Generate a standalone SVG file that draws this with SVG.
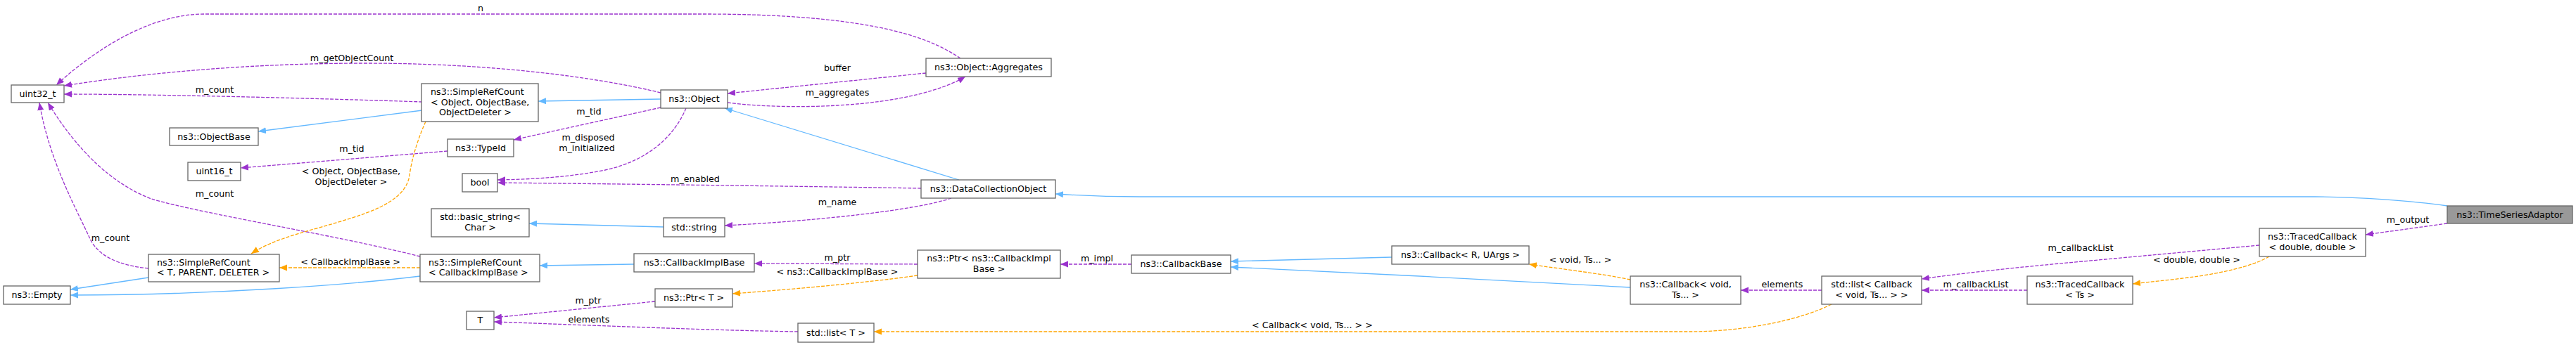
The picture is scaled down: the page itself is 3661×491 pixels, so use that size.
<svg xmlns="http://www.w3.org/2000/svg" width="3661" height="491" viewBox="0 0 3661 491">
<style>
text{font-family:"DejaVu Sans","Liberation Sans",sans-serif;font-size:12.7px;fill:#000}
.n rect{fill:#fff;stroke:#666;stroke-width:1.3}
.n text{text-anchor:middle}
.n text.l{text-anchor:start}
.e path{fill:none;stroke-width:1.3}
.inh{stroke:#63b8ff}
.use{stroke:#9a32cd;stroke-dasharray:5,2}
.tpl{stroke:#ffa500;stroke-dasharray:5,2}
.lbl text{text-anchor:middle}
</style>
<defs>
<marker id="ab" markerUnits="userSpaceOnUse" markerWidth="12" markerHeight="10" refX="11" refY="4.5" orient="auto"><path d="M0,0 L11,4.5 L0,9 z" fill="#63b8ff"/></marker>
<marker id="ap" markerUnits="userSpaceOnUse" markerWidth="12" markerHeight="10" refX="11" refY="4.5" orient="auto"><path d="M0,0 L11,4.5 L0,9 z" fill="#9a32cd"/></marker>
<marker id="ao" markerUnits="userSpaceOnUse" markerWidth="12" markerHeight="10" refX="11" refY="4.5" orient="auto"><path d="M0,0 L11,4.5 L0,9 z" fill="#ffa500"/></marker>
</defs>
<rect width="3661" height="491" fill="#fff"/>
<g id="edges" class="e">
<path class="inh" marker-end="url(#ab)" d="M3478,293 C3430,286 3350,280 3290,280 L1620,280 C1570,280 1530,278 1500,276"/>
<path class="inh" marker-end="url(#ab)" d="M1363,256 L1030,154"/>
<path class="inh" marker-end="url(#ab)" d="M939,141 L765,144"/>
<path class="inh" marker-end="url(#ab)" d="M600,157 L367,187"/>
<path class="inh" marker-end="url(#ab)" d="M943,323 L752,318"/>
<path class="inh" marker-end="url(#ab)" d="M901,376 L767,378"/>
<path class="inh" marker-end="url(#ab)" d="M597,393 C500,405 300,420 100,420"/>
<path class="inh" marker-end="url(#ab)" d="M211,395 L100,412"/>
<path class="inh" marker-end="url(#ab)" d="M1978,366 L1749,372"/>
<path class="inh" marker-end="url(#ab)" d="M2317,409 C2200,403 1900,386 1749,380"/>
<path class="use" marker-end="url(#ap)" d="M1365,83 C1330,60 1260,20 1000,20 L290,20 C210,20 130,75 80,121"/>
<path class="use" marker-end="url(#ap)" d="M939,132 C850,110 700,90 520,90 C330,90 180,108 91,122"/>
<path class="use" marker-end="url(#ap)" d="M600,145 C450,140 220,134 91,134"/>
<path class="use" marker-end="url(#ap)" d="M211,382 C170,378 140,365 128,340 C110,300 70,230 56,146"/>
<path class="use" marker-end="url(#ap)" d="M597,365 C480,335 290,305 215,283 C160,262 110,215 68,146"/>
<path class="use" marker-end="url(#ap)" d="M636,215 L342,239"/>
<path class="use" marker-end="url(#ap)" d="M939,153 L730,199"/>
<path class="use" marker-end="url(#ap)" d="M975,154 C960,190 925,228 860,242 C810,252 760,255 707,256"/>
<path class="use" marker-end="url(#ap)" d="M1309,268 C1200,266 900,262 707,260"/>
<path class="use" marker-end="url(#ap)" d="M1352,282 C1300,300 1150,315 1030,321"/>
<path class="use" marker-end="url(#ap)" d="M1304,376 L1072,375"/>
<path class="use" marker-end="url(#ap)" d="M1608,376 L1507,376"/>
<path class="use" marker-end="url(#ap)" d="M931,429 L702,452"/>
<path class="use" marker-end="url(#ap)" d="M1134,472 C1000,470 820,462 702,458"/>
<path class="use" marker-end="url(#ap)" d="M2589,413 L2474,413"/>
<path class="use" marker-end="url(#ap)" d="M2881,413 L2731,413"/>
<path class="use" marker-end="url(#ap)" d="M3211,349 L2960,372 C2850,382 2780,390 2731,397"/>
<path class="use" marker-end="url(#ap)" d="M3478,318 L3362,334"/>
<path class="use" marker-end="url(#ap)" d="M1034,146 C1080,152 1140,153 1190,150 C1280,145 1340,128 1372,109"/>
<path class="use" marker-end="url(#ap)" d="M1316,104 L1034,133"/>
<path class="tpl" marker-end="url(#ao)" d="M605,173 C595,195 585,225 582,250 C575,290 520,305 450,325 C410,336 380,346 357,361"/>
<path class="tpl" marker-end="url(#ao)" d="M597,381 L397,381"/>
<path class="tpl" marker-end="url(#ao)" d="M2603,433 C2560,455 2480,472 2400,472 L1242,472"/>
<path class="tpl" marker-end="url(#ao)" d="M2317,398 C2280,390 2220,383 2173,376"/>
<path class="tpl" marker-end="url(#ao)" d="M3225,365 C3200,380 3150,390 3110,395 C3080,399 3055,401 3031,404"/>
<path class="tpl" marker-end="url(#ao)" d="M1304,392 C1250,400 1150,410 1041,418"/>
</g>
<g id="edge-labels" class="lbl">
<text x="683" y="16">n</text>
<text x="500" y="87">m_getObjectCount</text>
<text x="305" y="132">m_count</text>
<text x="157" y="343">m_count</text>
<text x="305" y="280">m_count</text>
<text x="500" y="216">m_tid</text>
<text x="837" y="163">m_tid</text>
<text x="836" y="200">m_disposed</text>
<text x="834" y="215">m_initialized</text>
<text x="988" y="259">m_enabled</text>
<text x="1190" y="292">m_name</text>
<text x="1190" y="371">m_ptr</text>
<text x="1559" y="372">m_impl</text>
<text x="836" y="432">m_ptr</text>
<text x="837" y="459">elements</text>
<text x="1190" y="391">&lt; ns3::CallbackImplBase &gt;</text>
<text x="2533" y="409">elements</text>
<text x="2808" y="409">m_callbackList</text>
<text x="2957" y="357">m_callbackList</text>
<text x="3422" y="317">m_output</text>
<text x="1190" y="136">m_aggregates</text>
<text x="1190" y="101">buffer</text>
<text x="499" y="247.5">&lt; Object, ObjectBase,</text>
<text x="499" y="262.5">ObjectDeleter &gt;</text>
<text x="498" y="377">&lt; CallbackImplBase &gt;</text>
<text x="1865" y="467">&lt; Callback&lt; void, Ts... &gt; &gt;</text>
<text x="2246" y="374">&lt; void, Ts... &gt;</text>
<text x="3122" y="374">&lt; double, double &gt;</text>
</g>
<g id="TimeSeriesAdaptor" class="n"><rect x="3478" y="293" width="178" height="25" style="fill:#999"/><text x="3567" y="310">ns3::TimeSeriesAdaptor</text></g>
<g id="DataCollectionObject" class="n"><rect x="1309" y="256" width="191" height="26"/><text x="1404.5" y="273">ns3::DataCollectionObject</text></g>
<g id="Object" class="n"><rect x="939" y="128" width="95" height="26"/><text x="986.5" y="145">ns3::Object</text></g>
<g id="SimpleRefCountObject" class="n"><rect x="599" y="119" width="166" height="54"/><text class="l" x="612" y="135">ns3::SimpleRefCount</text><text class="l" x="612" y="149.5">&lt; Object, ObjectBase,</text><text class="l" x="624" y="164">ObjectDeleter &gt;</text></g>
<g id="ObjectBase" class="n"><rect x="241" y="182" width="126" height="25"/><text x="304" y="199">ns3::ObjectBase</text></g>
<g id="uint32_t" class="n"><rect x="16" y="121" width="75" height="25"/><text x="53.5" y="138">uint32_t</text></g>
<g id="Empty" class="n"><rect x="5" y="407" width="95" height="26"/><text x="52.5" y="424">ns3::Empty</text></g>
<g id="Aggregates" class="n"><rect x="1316" y="83" width="178" height="26"/><text x="1405" y="100">ns3::Object::Aggregates</text></g>
<g id="TypeId" class="n"><rect x="636" y="198" width="94" height="25"/><text x="683" y="215">ns3::TypeId</text></g>
<g id="uint16_t" class="n"><rect x="267" y="231" width="75" height="26"/><text x="304.5" y="248">uint16_t</text></g>
<g id="bool" class="n"><rect x="657" y="247" width="50" height="26"/><text x="682" y="264">bool</text></g>
<g id="string" class="n"><rect x="943" y="310" width="87" height="27"/><text x="986.5" y="328">std::string</text></g>
<g id="basic_string" class="n"><rect x="613" y="297" width="139" height="40"/><text x="682.5" y="313">std::basic_string&lt;</text><text x="682.5" y="328">Char &gt;</text></g>
<g id="TracedCallbackDD" class="n"><rect x="3211" y="325" width="151" height="40"/><text x="3286.5" y="341">ns3::TracedCallback</text><text x="3286.5" y="356">&lt; double, double &gt;</text></g>
<g id="TracedCallbackTs" class="n"><rect x="2881" y="393" width="150" height="40"/><text x="2956" y="409">ns3::TracedCallback</text><text x="2956" y="424">&lt; Ts &gt;</text></g>
<g id="listCallback" class="n"><rect x="2589" y="393" width="142" height="40"/><text x="2660" y="409">std::list&lt; Callback</text><text x="2660" y="424">&lt; void, Ts... &gt; &gt;</text></g>
<g id="CallbackVoid" class="n"><rect x="2317" y="393" width="157" height="40"/><text x="2395.5" y="409">ns3::Callback&lt; void,</text><text x="2395.5" y="424">Ts... &gt;</text></g>
<g id="CallbackR" class="n"><rect x="1978" y="350" width="195" height="26"/><text x="2075.5" y="367">ns3::Callback&lt; R, UArgs &gt;</text></g>
<g id="CallbackBase" class="n"><rect x="1608" y="363" width="141" height="26"/><text x="1678.5" y="380">ns3::CallbackBase</text></g>
<g id="PtrCallbackImplBase" class="n"><rect x="1304" y="356" width="203" height="40"/><text x="1405.5" y="372">ns3::Ptr&lt; ns3::CallbackImpl</text><text x="1405.5" y="387">Base &gt;</text></g>
<g id="CallbackImplBase" class="n"><rect x="901" y="361" width="171" height="26"/><text x="986.5" y="378">ns3::CallbackImplBase</text></g>
<g id="SimpleRefCountCIB" class="n"><rect x="597" y="362" width="170" height="39"/><text class="l" x="609" y="377.5">ns3::SimpleRefCount</text><text class="l" x="609" y="392">&lt; CallbackImplBase &gt;</text></g>
<g id="SimpleRefCountT" class="n"><rect x="211" y="362" width="186" height="39"/><text class="l" x="223" y="377.5">ns3::SimpleRefCount</text><text class="l" x="223" y="392">&lt; T, PARENT, DELETER &gt;</text></g>
<g id="PtrT" class="n"><rect x="931" y="411" width="110" height="26"/><text x="986" y="428">ns3::Ptr&lt; T &gt;</text></g>
<g id="T" class="n"><rect x="663" y="443" width="39" height="26"/><text x="682.5" y="460">T</text></g>
<g id="listT" class="n"><rect x="1134" y="460" width="108" height="27"/><text x="1188" y="478">std::list&lt; T &gt;</text></g>
</svg>
